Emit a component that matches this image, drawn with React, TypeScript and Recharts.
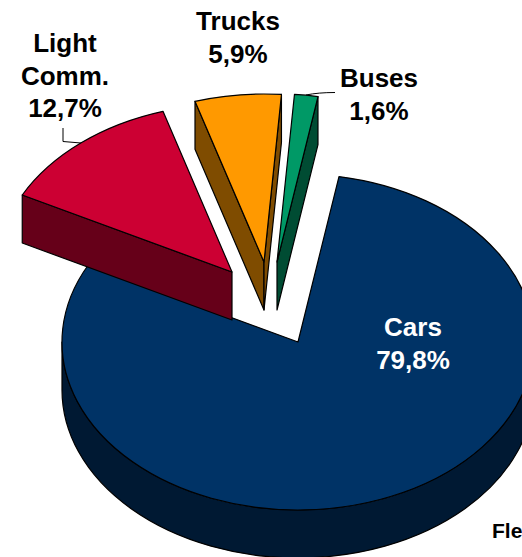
import { Pie, PieChart } from "recharts"

const categories = ["Cars", "Light Comm.", "Trucks", "Buses"]
const shares = [79.8, 12.7, 5.9, 1.6]

const data = categories.map((name, i) => ({ name, value: shares[i] }))

const WIDTH = 522
const HEIGHT = 557
const RX = 236
const RY = 168
const DEPTH = 48
const FONT = "'Liberation Sans', Arial, sans-serif"

// how each slice is drawn, same order as categories
const topColors = ["#003366", "#CC0033", "#FF9900", "#009966"]
const sideColors = ["#001933", "#660019", "#7F4C00", "#004C33"]
const apexes = [
  [298, 342],
  [232, 272],
  [264, 262],
  [277, 262],
]
const labelSpots = [
  { x: 413, y: 336, color: "#fff", line: "" },
  { x: 65, y: 52, color: "#000", line: "M63 128V141.5L81 143" },
  { x: 238, y: 30, color: "#000", line: "" },
  { x: 379, y: 87, color: "#000", line: "M306 95Q318 92.5 335 92.5" },
]

const rad = (deg: number) => (deg * Math.PI) / 180

const at = (cx: number, cy: number, deg: number) => [
  cx + RX * Math.cos(rad(deg)),
  cy - RY * Math.sin(rad(deg)),
]

function Slice(props: any) {
  const { startAngle, endAngle, index } = props
  const [cx, cy] = apexes[index]
  const p0 = at(cx, cy, startAngle)
  const p1 = at(cx, cy, endAngle)
  const large = startAngle - endAngle > 180 ? 1 : 0
  const edge = {
    fill: sideColors[index],
    stroke: "#000",
    strokeWidth: 1.2,
    strokeLinejoin: "round" as const,
  }

  const wall = (p: number[]) =>
    `M${cx} ${cy}L${p[0]} ${p[1]}V${p[1] + DEPTH}L${cx} ${cy + DEPTH}Z`

  // only the cut walls that face the viewer
  const showStart = Math.cos(rad(startAngle)) < 0
  const showEnd = Math.cos(rad(endAngle)) > 0

  // outer rim shows on the front half only
  const rimFrom = Math.min(startAngle, 0)
  const rimTo = Math.max(endAngle, -180)
  let rim = ""
  if (rimFrom > rimTo) {
    const a = at(cx, cy, rimFrom)
    const b = at(cx, cy, rimTo)
    rim = `M${a[0]} ${a[1]}A${RX} ${RY} 0 0 1 ${b[0]} ${b[1]}V${b[1] + DEPTH}A${RX} ${RY} 0 0 0 ${a[0]} ${a[1] + DEPTH}Z`
  }

  return (
    <g>
      {rim && <path d={rim} {...edge} />}
      {showStart && <path d={wall(p0)} {...edge} />}
      {showEnd && <path d={wall(p1)} {...edge} />}
      <path
        d={`M${cx} ${cy}L${p0[0]} ${p0[1]}A${RX} ${RY} 0 ${large} 1 ${p1[0]} ${p1[1]}Z`}
        fill={topColors[index]}
        stroke="#000"
        strokeWidth={1.2}
        strokeLinejoin="round"
      />
    </g>
  )
}

function SliceLabel(props: any) {
  const { index, name, value } = props
  const spot = labelSpots[index]
  const lines = [...name.split(" "), `${String(value).replace(".", ",")}%`]
  return (
    <g>
      {spot.line && <path d={spot.line} fill="none" stroke="#000" strokeWidth={1} />}
      <text
        textAnchor="middle"
        fontFamily={FONT}
        fontWeight="bold"
        fontSize={26}
        fill={spot.color}
      >
        {lines.map((t: string, i: number) => (
          <tspan key={t} x={spot.x} y={spot.y + i * 32.5}>
            {t}
          </tspan>
        ))}
      </text>
    </g>
  )
}

export default function App() {
  return (
    <div style={{ position: "absolute", left: 0, top: 0, width: WIDTH, height: HEIGHT, overflow: "hidden" }}>
      <PieChart width={WIDTH} height={HEIGHT} margin={{ top: 0, right: 0, bottom: 0, left: 0 }}>
        <Pie
          data={data}
          dataKey="value"
          nameKey="name"
          cx={apexes[0][0]}
          cy={apexes[0][1]}
          outerRadius={RX}
          startAngle={80}
          endAngle={-280}
          shape={Slice}
          label={SliceLabel}
          labelLine={false}
          isAnimationActive={false}
        />
        <text x={492} y={538} fontFamily={FONT} fontWeight="bold" fontSize={21} fill="#000">
          Fle
        </text>
      </PieChart>
    </div>
  )
}
